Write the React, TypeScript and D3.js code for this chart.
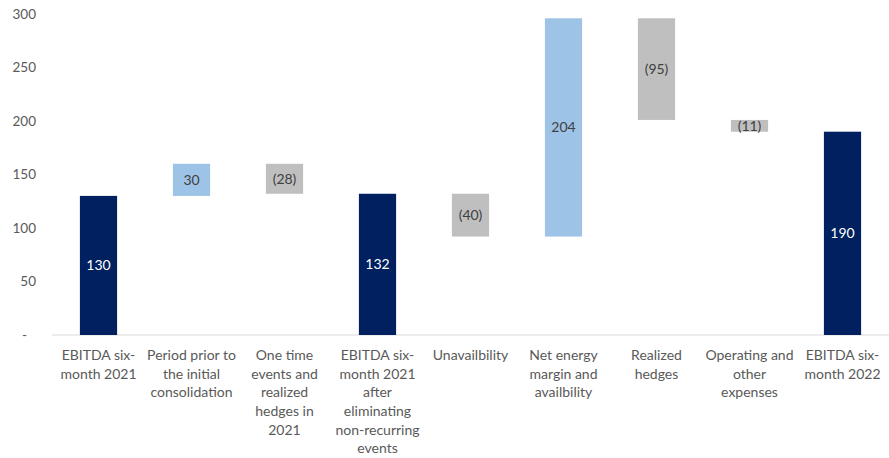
import React from "react";
import * as d3 from "d3";

// EBITDA bridge: six-month 2021 to six-month 2022
const categories = [
  ["EBITDA six-", "month 2021"],
  ["Period prior to", "the initial", "consolidation"],
  ["One time", "events and", "realized", "hedges in", "2021"],
  ["EBITDA six-", "month 2021", "after", "eliminating", "non-recurring", "events"],
  ["Unavailbility"],
  ["Net energy", "margin and", "availbility"],
  ["Realized", "hedges"],
  ["Operating and", "other", "expenses"],
  ["EBITDA six-", "month 2022"],
];
// change per step; totals marked in kinds
const values = [130, 30, -28, 132, -40, 204, -95, -11, 190];
const kinds = ["total", "delta", "delta", "total", "delta", "delta", "delta", "delta", "total"];
const yTicks = [0, 50, 100, 150, 200, 250, 300];

const W = 889;
const H = 458;
const FONT = "Lato, 'Open Sans', sans-serif";

const colorTotal = "#002060";
const colorUp = "#9DC3E6";
const colorDown = "#BFBFBF";

export default function App() {
  const x = d3
    .scaleBand<number>()
    .domain(d3.range(categories.length))
    .range([52, 889])
    .paddingInner(0.6)
    .paddingOuter(0.3);
  const y = d3.scaleLinear().domain([0, 300]).range([335, 14]);

  // running levels for floating bars
  let level = 0;
  const bars = values.map((v, i) => {
    let lo: number, hi: number;
    if (kinds[i] === "total") {
      lo = 0;
      hi = v;
      level = v;
    } else {
      const start = level;
      level = start + v;
      lo = Math.min(start, level);
      hi = Math.max(start, level);
    }
    return { i, v, lo, hi, kind: kinds[i] };
  });

  const fmt = (v: number) => (v < 0 ? `(${Math.abs(v)})` : `${v}`);

  return (
    <svg
      width={W}
      height={H}
      style={{ position: "absolute", left: 0, top: 0, background: "#fff" }}
      fontFamily={FONT}
    >
      {yTicks.map((t) => (
        <text
          key={t}
          x={t === 0 ? 27 : 36}
          y={y(t)}
          dy="0.35em"
          textAnchor="end"
          fontSize={13.5}
          fill="#595959"
        >
          {t === 0 ? "-" : t}
        </text>
      ))}
      <line x1={52} x2={889} y1={y(0)} y2={y(0)} stroke="#D9D9D9" strokeWidth={1.2} />
      {bars.map((b) => {
        const fill = b.kind === "total" ? colorTotal : b.v >= 0 ? colorUp : colorDown;
        const bx = x(b.i)!;
        const top = y(b.hi);
        const bottom = y(b.lo);
        return (
          <g key={b.i}>
            <rect x={bx} y={top} width={x.bandwidth()} height={bottom - top} fill={fill} />
            <text
              x={bx + x.bandwidth() / 2}
              y={(top + bottom) / 2}
              dy="0.35em"
              textAnchor="middle"
              fontSize={14}
              fill={b.kind === "total" ? "#ffffff" : "#404040"}
            >
              {fmt(b.v)}
            </text>
          </g>
        );
      })}
      {categories.map((lines, i) => (
        <text
          key={i}
          x={x(i)! + x.bandwidth() / 2}
          y={355}
          textAnchor="middle"
          fontSize={14}
          fill="#595959"
        >
          {lines.map((l, j) => (
            <tspan key={j} x={x(i)! + x.bandwidth() / 2} y={355 + j * 18.7} dy="0.35em">
              {l}
            </tspan>
          ))}
        </text>
      ))}
    </svg>
  );
}
